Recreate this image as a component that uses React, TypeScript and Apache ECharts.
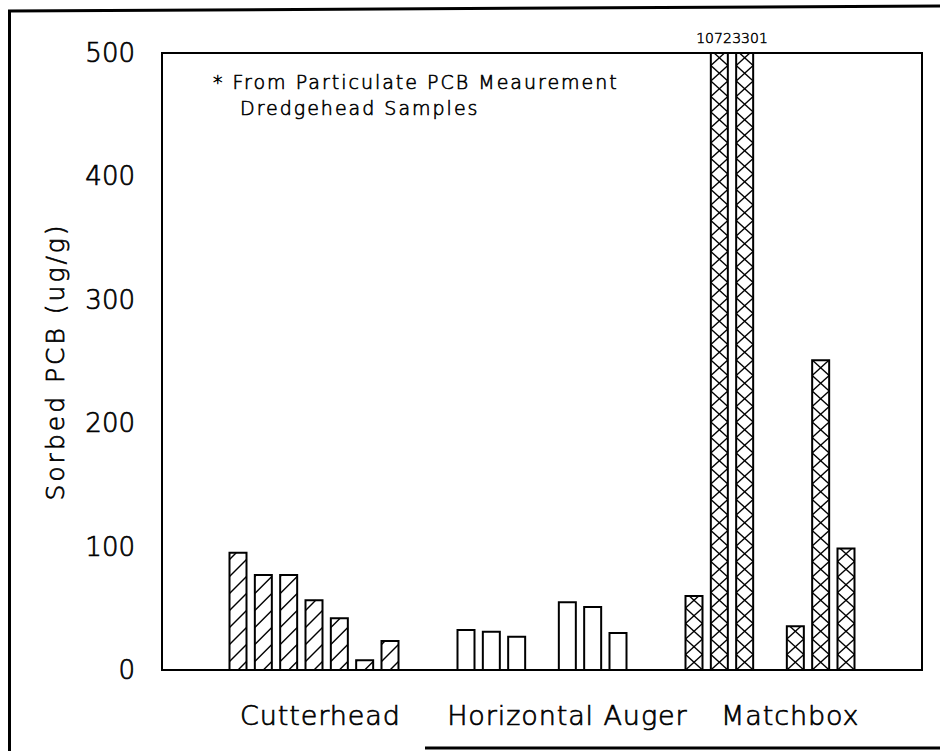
import React, { useEffect, useRef } from "react";
import * as echarts from "echarts";

// ---- data ----
const categories = ["Cutterhead", "Horizontal Auger", "Matchbox"];
const categoryLabelPositions = [6.25, 16.0, 24.8];

const cutterheadPositions = [3, 4, 5, 6, 7, 8, 9];
const cutterheadValues = [95, 77, 77, 56.5, 42, 8, 23.5];

const augerPositions = [12, 13, 14, 16, 17, 18];
const augerValues = [32.5, 31, 27, 55, 51, 30];

const matchboxPositions = [21, 22, 23, 25, 26, 27];
const matchboxValues = [60, 1072, 3301, 35.5, 251, 98.5];

const yTicks = [0, 100, 200, 300, 400, 500];
const yAxisTitle = "Sorbed PCB (ug/g)";
const noteLines = ["* From Particulate PCB Meaurement", "Dredgehead Samples"];

// ---- styles ----
const FONT = "DejaVu Sans";
const WEIGHT = 200;
const TEXT_STROKE = 0.7;
const Y_MAX = 500;
const Y_INTERVAL = 100;
const X_MIN = 0;
const X_MAX = 30;
const BAR_W = 17;
const DIAG_STEP = 17;
const CROSS_CELL = 15.5;
const CLIP_LABEL_W = 36;

const CSS = `
.pcb-chart text[style*="27px"] { letter-spacing: 0.9px; }
.pcb-chart text[style*="25px"] { letter-spacing: 3px; }
.pcb-chart text[style*="19px"] { letter-spacing: 2px; }
`;

const labelInk = { color: "#000", textBorderColor: "#000", textBorderWidth: TEXT_STROKE };

function clipSeg(x1: number, y1: number, x2: number, y2: number, yt: number, yb: number) {
  let t0 = 0;
  let t1 = 1;
  const dy = y2 - y1;
  if (dy === 0) {
    if (y1 < yt || y1 > yb) return null;
  } else {
    let ta = (yt - y1) / dy;
    let tb = (yb - y1) / dy;
    if (ta > tb) [ta, tb] = [tb, ta];
    t0 = Math.max(t0, ta);
    t1 = Math.min(t1, tb);
  }
  if (t0 >= t1) return null;
  return {
    x1: x1 + (x2 - x1) * t0,
    y1: y1 + dy * t0,
    x2: x1 + (x2 - x1) * t1,
    y2: y1 + dy * t1,
  };
}

function makeRenderItem(kind: "diag" | "plain" | "cross", positions: number[], values: number[]) {
  return (params: any, api: any) => {
    const i = params.dataIndex;
    const xv = api.value(0);
    const v = api.value(1);
    const shown = Math.min(v, Y_MAX);
    const base = api.coord([xv, 0]);
    const top = api.coord([xv, shown]);
    const w = BAR_W;
    const xl = base[0] - w / 2;
    const xr = base[0] + w / 2;
    const yb = base[1];
    const yt = top[1];
    const children: any[] = [];
    children.push({
      type: "rect",
      shape: { x: xl, y: yt, width: w, height: yb - yt },
      style: { fill: "#fff", stroke: null },
    });
    const lineStyle = { stroke: "#000", lineWidth: 1.4 };
    if (kind === "diag") {
      for (let k = 0; k < 200; k++) {
        const y0 = yb + DIAG_STEP / 2 - k * DIAG_STEP;
        if (y0 < yt) break;
        const seg = clipSeg(xl, y0, xr, y0 - w, yt, yb);
        if (seg) children.push({ type: "line", shape: seg, style: lineStyle });
      }
    } else if (kind === "cross") {
      for (let k = 0; k < 200; k++) {
        const cb = yb - k * CROSS_CELL;
        const ct = cb - CROSS_CELL;
        if (cb < yt) break;
        const s1 = clipSeg(xl, cb, xr, ct, yt, yb);
        const s2 = clipSeg(xl, ct, xr, cb, yt, yb);
        if (s1) children.push({ type: "line", shape: s1, style: lineStyle });
        if (s2) children.push({ type: "line", shape: s2, style: lineStyle });
      }
    }
    children.push({
      type: "rect",
      shape: { x: xl, y: yt, width: w, height: yb - yt },
      style: { fill: null, stroke: "#000", lineWidth: 2 },
    });
    if (v > Y_MAX) {
      let s = i;
      while (s > 0 && values[s - 1] > Y_MAX && positions[s - 1] === positions[s] - 1) s--;
      let e = i;
      while (e < values.length - 1 && values[e + 1] > Y_MAX && positions[e + 1] === positions[e] + 1) e++;
      const n = e - s + 1;
      const centerPos = (positions[s] + positions[e]) / 2;
      const cx = api.coord([centerPos, 0])[0] + (i - s - (n - 1) / 2) * CLIP_LABEL_W;
      children.push({
        type: "text",
        x: cx,
        y: yt - 8,
        style: {
          text: String(v),
          fill: "#000",
          stroke: "#000",
          lineWidth: 0.5,
          font: `${WEIGHT} 14px "${FONT}"`,
          textAlign: "center",
          textVerticalAlign: "bottom",
        },
      });
    }
    return { type: "group", children };
  };
}

export default function App() {
  const ref = useRef<HTMLDivElement>(null);
  useEffect(() => {
    if (!ref.current) return;
    const chart = echarts.init(ref.current, undefined, { renderer: "svg" });
    const makeSeries = (kind: "diag" | "plain" | "cross", positions: number[], values: number[]) => ({
      type: "custom",
      renderItem: makeRenderItem(kind, positions, values),
      encode: { x: 0, y: 1 },
      clip: false,
      data: positions.map((p, i) => [p, values[i]]),
      z: 5,
    });
    chart.setOption({
      animation: false,
      backgroundColor: "#fff",
      textStyle: { fontFamily: FONT, color: "#000", fontWeight: WEIGHT },
      grid: {
        left: 162,
        right: 18,
        top: 53,
        bottom: 81,
        show: true,
        borderColor: "#000",
        borderWidth: 2,
        backgroundColor: "transparent",
      },
      xAxis: {
        type: "value",
        min: X_MIN,
        max: X_MAX,
        axisLine: { show: false },
        axisTick: { show: false },
        splitLine: { show: false },
        axisLabel: {
          customValues: categoryLabelPositions,
          formatter: (val: number) => {
            const idx = categoryLabelPositions.findIndex((p) => Math.abs(p - val) < 1e-6);
            return idx >= 0 ? categories[idx] : "";
          },
          fontFamily: FONT,
          fontWeight: WEIGHT,
          fontSize: 27,
          ...labelInk,
          margin: 32,
        },
      },
      yAxis: {
        type: "value",
        min: 0,
        max: Y_MAX,
        interval: Y_INTERVAL,
        axisLine: { show: false },
        axisTick: { show: false },
        splitLine: { show: false },
        axisLabel: {
          fontFamily: FONT,
          fontWeight: WEIGHT,
          fontSize: 26,
          ...labelInk,
          margin: 27,
          formatter: (val: number) => (yTicks.includes(val) ? String(val) : ""),
        },
        name: yAxisTitle,
        nameLocation: "middle",
        nameGap: 94,
        nameTextStyle: { fontFamily: FONT, fontWeight: WEIGHT, fontSize: 25, ...labelInk },
      },
      series: [
        makeSeries("diag", cutterheadPositions, cutterheadValues),
        makeSeries("plain", augerPositions, augerValues),
        makeSeries("cross", matchboxPositions, matchboxValues),
      ],
      graphic: [
        {
          type: "line",
          shape: { x1: 9.5, y1: 12, x2: 9.5, y2: 751 },
          style: { stroke: "#000", lineWidth: 3 },
        },
        {
          type: "line",
          shape: { x1: 8, y1: 11, x2: 940, y2: 6 },
          style: { stroke: "#000", lineWidth: 3 },
        },
        {
          type: "line",
          shape: { x1: 425, y1: 748, x2: 940, y2: 748 },
          style: { stroke: "#000", lineWidth: 3 },
        },
        {
          type: "text",
          x: 213,
          y: 82,
          style: {
            text: noteLines[0],
            font: `${WEIGHT} 19px "${FONT}"`,
            fill: "#000",
            stroke: "#000",
            lineWidth: 0.6,
            textVerticalAlign: "middle",
          },
        },
        {
          type: "text",
          x: 240,
          y: 108,
          style: {
            text: noteLines[1],
            font: `${WEIGHT} 19px "${FONT}"`,
            fill: "#000",
            stroke: "#000",
            lineWidth: 0.6,
            textVerticalAlign: "middle",
          },
        },
      ],
    });
    return () => chart.dispose();
  }, []);
  return (
    <>
      <style>{CSS}</style>
      <div
        ref={ref}
        className="pcb-chart"
        style={{ position: "fixed", left: 0, top: 0, width: 940, height: 751, background: "#fff" }}
      />
    </>
  );
}
